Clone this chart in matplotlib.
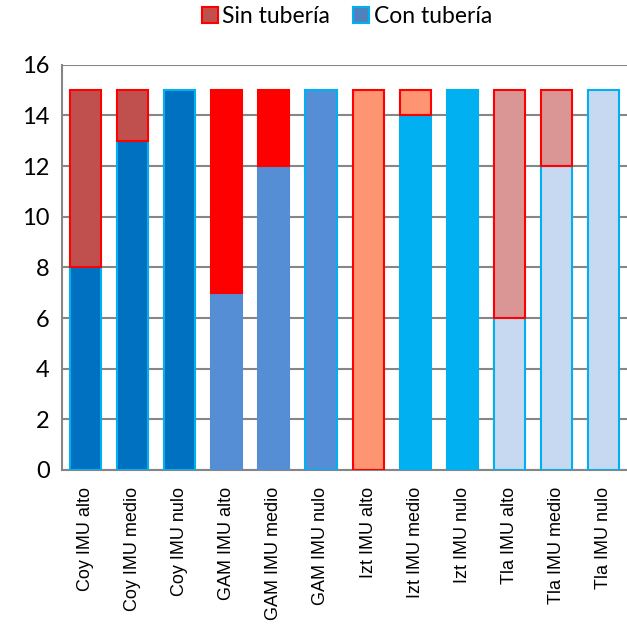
import matplotlib.pyplot as plt
from matplotlib.patches import Patch

categories = ['Coy IMU alto', 'Coy IMU medio', 'Coy IMU nulo',
              'GAM IMU alto', 'GAM IMU medio', 'GAM IMU nulo',
              'Izt IMU alto', 'Izt IMU medio', 'Izt IMU nulo',
              'Tla IMU alto', 'Tla IMU medio', 'Tla IMU nulo']
con_tuberia = [8, 13, 15, 7, 12, 15, 0, 14, 15, 6, 12, 15]
sin_tuberia = [7, 2, 0, 8, 3, 0, 15, 1, 0, 9, 3, 0]

con_colors = ['#0070C0'] * 3 + ['#558ED5'] * 3 + ['#00B0F0'] * 3 + ['#C6D9F1'] * 3
sin_colors = ['#C0504D'] * 3 + ['#FF0000'] * 3 + ['#FF9473'] * 3 + ['#D99694'] * 3
con_edges = ['#00B0F0', '#00B0F0', '#00B0F0', '#558ED5', '#558ED5', '#00B0F0',
             '#00B0F0', '#00B0F0', '#00B0F0', '#00B0F0', '#00B0F0', '#00B0F0']
# no outline on empty segments
con_edges = [e if v > 0 else 'none' for e, v in zip(con_edges, con_tuberia)]
sin_edges = ['#FF0000' if v > 0 else 'none' for v in sin_tuberia]

fig = plt.figure(figsize=(6.27, 6.42), dpi=100)
ax = fig.add_axes([0.099, 0.268, 0.901, 0.631])

x = range(len(categories))
ax.bar(x, con_tuberia, width=0.66, color=con_colors, edgecolor=con_edges, linewidth=1.5, zorder=3)
ax.bar(x, sin_tuberia, width=0.66, bottom=con_tuberia, color=sin_colors,
       edgecolor=sin_edges, linewidth=1.5, zorder=3)

ax.set_xlim(-0.5, len(categories) - 0.5)
ax.set_ylim(0, 16)
ax.set_yticks(range(0, 17, 2))
ax.set_yticklabels([str(v) for v in range(0, 17, 2)], fontsize=17, family='Lato')
ax.set_xticks(list(x))
ax.set_xticklabels(categories, rotation=90, fontsize=13, family='Liberation Sans')
ax.tick_params(length=0, pad=9)
ax.tick_params(axis='x', pad=12)

ax.yaxis.grid(True, color='#868686', linewidth=1.5, zorder=0)
ax.set_axisbelow(True)
for s in ['top', 'right']:
    ax.spines[s].set_visible(False)
for s in ['left', 'bottom']:
    ax.spines[s].set_color('#868686')
    ax.spines[s].set_linewidth(1.5)

handles = [Patch(facecolor='#C0504D', edgecolor='#FF0000', linewidth=1.5, label='Sin tubería'),
           Patch(facecolor='#4F81BD', edgecolor='#00B0F0', linewidth=1.5, label='Con tubería')]
fig.legend(handles=handles, loc='center', bbox_to_anchor=(0.553, 0.975), ncol=2, frameon=False,
           prop={'family': 'Lato', 'size': 16.5}, handlelength=0.7, handleheight=0.7,
           handletextpad=0.2, columnspacing=1.0)

fig.savefig('out.png', dpi=100)
